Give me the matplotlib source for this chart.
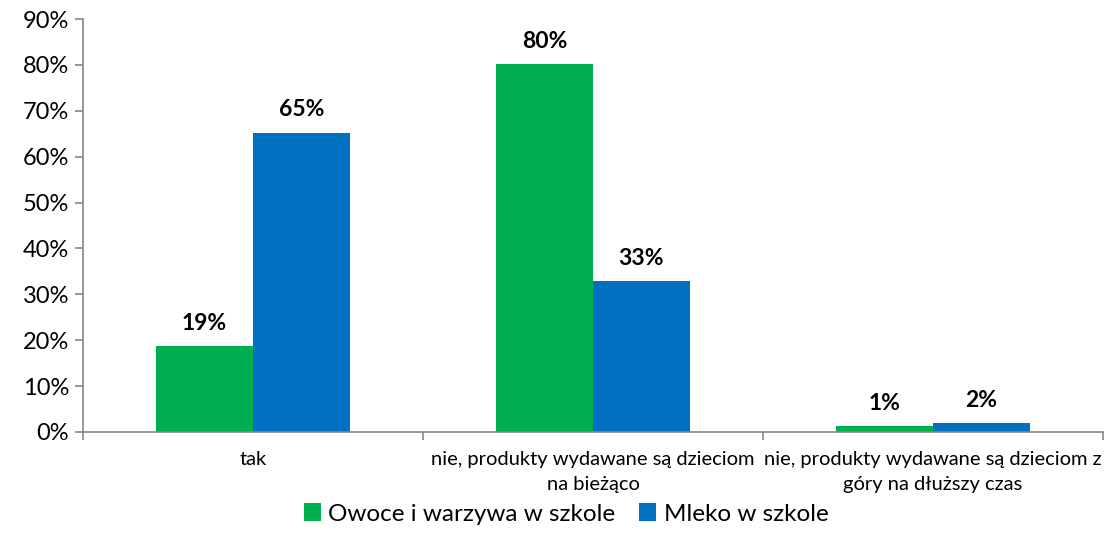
import numpy as np
import matplotlib.pyplot as plt
from matplotlib.ticker import PercentFormatter

plt.rcParams['font.family'] = ['Lato', 'DejaVu Sans']

# data
categories = ['tak',
              'nie, produkty wydawane są dzieciom\nna bieżąco',
              'nie, produkty wydawane są dzieciom z\ngóry na dłuższy czas']
owoce = [18.7, 80.1, 1.3]
mleko = [65.2, 32.9, 1.9]
owoce_labels = ['19%', '80%', '1%']
mleko_labels = ['65%', '33%', '2%']
series_names = ['Owoce i warzywa w szkole', 'Mleko w szkole']

green = '#00B050'
blue = '#0070C0'
axis_col = '#868686'

fig = plt.figure(figsize=(11.05, 5.52), dpi=100)
ax = fig.add_axes([83 / 1105, 1 - 432 / 552, 1020 / 1105, 413 / 552])

x = np.arange(len(categories))
w = 0.285
b1 = ax.bar(x - w / 2, owoce, w, color=green, label=series_names[0])
b2 = ax.bar(x + w / 2, mleko, w, color=blue, label=series_names[1])

for bars, labs in ((b1, owoce_labels), (b2, mleko_labels)):
    for r, lab in zip(bars, labs):
        ax.annotate(lab, (r.get_x() + r.get_width() / 2, r.get_height()),
                    xytext=(0, 9), textcoords='offset points',
                    ha='center', va='bottom', fontsize=16.5, fontweight='bold')

ax.set_xlim(-0.5, len(categories) - 0.5)
ax.set_ylim(0, 90)
ax.set_yticks(np.arange(0, 91, 10))
ax.yaxis.set_major_formatter(PercentFormatter(decimals=0))
ax.tick_params(axis='y', labelsize=17, length=6, color=axis_col, width=1.2, pad=4)

# category labels at centres, tick marks at group boundaries
ax.set_xticks(np.arange(-0.5, len(categories), 1.0))
ax.set_xticklabels([])
ax.tick_params(axis='x', length=6, color=axis_col, width=1.2)
ax.set_xticks(x, minor=True)
ax.set_xticklabels(categories, minor=True, fontsize=14.5, linespacing=1.55)
ax.tick_params(axis='x', which='minor', length=0, pad=14)

for s in ['top', 'right']:
    ax.spines[s].set_visible(False)
for s in ['left', 'bottom']:
    ax.spines[s].set_color(axis_col)
    ax.spines[s].set_linewidth(1.2)

fig.legend(loc='center', bbox_to_anchor=(566 / 1105, 1 - 514 / 552), ncol=2,
           frameon=False, fontsize=17.5, handlelength=0.7, handleheight=0.7,
           handletextpad=0.3, columnspacing=1.0)

fig.savefig('out.png', dpi=100)
